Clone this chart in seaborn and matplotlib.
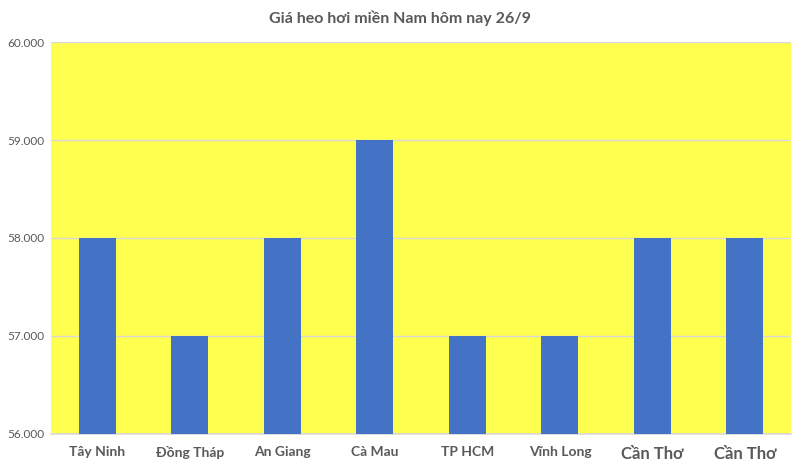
import matplotlib
matplotlib.use("Agg")
import matplotlib.pyplot as plt
import seaborn as sns
import pandas as pd
from matplotlib.ticker import FuncFormatter

provinces = ["Tây Ninh", "Đồng Tháp", "An Giang", "Cà Mau", "TP HCM", "Vĩnh Long", "Cần Thơ", "Cần Thơ "]
prices = [58000, 57000, 58000, 59000, 57000, 57000, 58000, 58000]
title = "Giá heo hơi miền Nam hôm nay 26/9"

df = pd.DataFrame({"province": provinces, "price": prices})

sns.set_theme(style="white")
plt.rcParams["font.family"] = ["Lato", "DejaVu Sans"]

fig = plt.figure(figsize=(8, 4.68), dpi=100)
ax = fig.add_axes([0.064, 0.073, 0.925, 0.837])
ax.set_facecolor("#FFFF4F")

sns.barplot(data=df, x="province", y="price", color="#4472C4", width=0.4,
            saturation=1, ax=ax, zorder=3, linewidth=0, edgecolor="none")

ax.set_ylim(56000, 60000)
ax.set_yticks([56000, 57000, 58000, 59000, 60000])
ax.yaxis.set_major_formatter(FuncFormatter(lambda v, p: f"{int(v):,}".replace(",", ".")))
ax.grid(axis="y", color="#D9D9D9", linewidth=1, zorder=1)
ax.set_axisbelow(True)
for s in ["top", "right", "left"]:
    ax.spines[s].set_visible(False)
ax.spines["bottom"].set_color("#D9D9D9")
ax.set_xlabel("")
ax.set_ylabel("")
ax.tick_params(axis="y", labelsize=8.5, colors="#595959", length=0, pad=5)
ax.tick_params(axis="x", labelsize=10, colors="#595959", length=0, pad=9)
ax.set_xticks(range(len(provinces)))
ax.set_xticklabels([p.strip() for p in provinces], fontweight="bold")
for i, lab in enumerate(ax.get_xticklabels()):
    if i >= 6:
        lab.set_fontsize(12)
fig.suptitle(title, x=0.5, y=0.978, fontsize=11.5, fontweight="bold", color="#595959")

fig.savefig("out.png", dpi=100, facecolor="white")
